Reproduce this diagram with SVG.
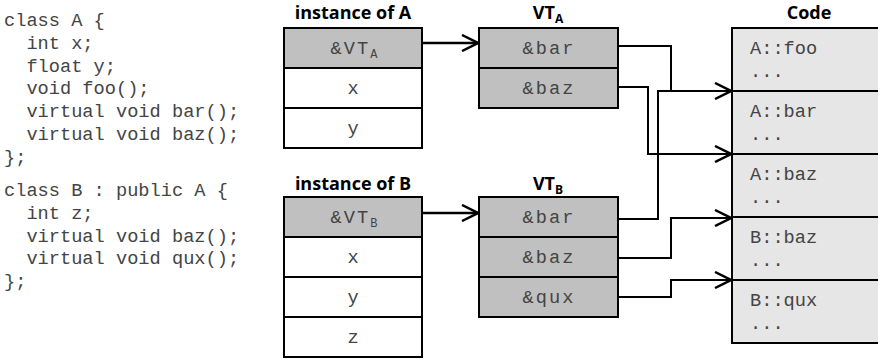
<svg xmlns="http://www.w3.org/2000/svg" width="878" height="359" viewBox="0 0 878 359">
  <style>
    .hdr { font-family: "Open Sans", "Liberation Sans", sans-serif; font-weight: bold; font-size: 18px; fill: #000; text-anchor: middle; }
    .sub { font-size: 12px; }
    .src { font-family: "Liberation Mono", "DejaVu Sans Mono", monospace; font-size: 18.67px; fill: #444; }
    .cell { font-family: "Liberation Mono", "DejaVu Sans Mono", monospace; font-size: 18.67px; fill: #444; text-anchor: middle; letter-spacing: 2px; }
    .csub { font-size: 12px; letter-spacing: 0; }
    .box { stroke: #000; stroke-width: 2; }
    .grey { fill: #c0c0c0; }
    .white { fill: #fff; }
    .codebg { fill: #e6e6e6; }
    .wire { fill: none; stroke: #000; stroke-width: 2; }
    .ptr { fill: none; stroke: #000; stroke-width: 2.5; }
  </style>
  <defs>
    <marker id="chev" viewBox="0 0 18 18" refX="17" refY="9" markerWidth="18" markerHeight="18" markerUnits="userSpaceOnUse" orient="auto">
      <path d="M1,1 L17,9 L1,17" fill="none" stroke="#000" stroke-width="2.5"/>
    </marker>
  </defs>

  <!-- C++ source for the two classes -->
  <g id="source">
    <text class="src" x="4" y="26">class A {</text>
    <text class="src" x="26.4" y="48.8">int x;</text>
    <text class="src" x="26.4" y="71.6">float y;</text>
    <text class="src" x="26.4" y="94.4">void foo();</text>
    <text class="src" x="26.4" y="117.2">virtual void bar();</text>
    <text class="src" x="26.4" y="140">virtual void baz();</text>
    <text class="src" x="4" y="162.8">};</text>
    <text class="src" x="4" y="196">class B : public A {</text>
    <text class="src" x="26.4" y="218.8">int z;</text>
    <text class="src" x="26.4" y="241.6">virtual void baz();</text>
    <text class="src" x="26.4" y="264.4">virtual void qux();</text>
    <text class="src" x="4" y="287.2">};</text>
  </g>

  <!-- object layout of an A -->
  <g id="instA">
    <text class="hdr" x="353" y="19">instance of A</text>
    <rect class="box grey" x="284" y="28" width="138" height="40"/>
    <rect class="box white" x="284" y="68" width="138" height="40"/>
    <rect class="box white" x="284" y="108" width="138" height="40"/>
    <text class="cell" x="354" y="54">&amp;VT<tspan class="csub" dy="4">A</tspan></text>
    <text class="cell" x="354" y="94">x</text>
    <text class="cell" x="354" y="134">y</text>
  </g>

  <!-- vtable of A -->
  <g id="vtA">
    <text class="hdr" x="548" y="19">VT<tspan class="sub" dy="4">A</tspan></text>
    <rect class="box grey" x="479" y="28" width="139" height="40"/>
    <rect class="box grey" x="479" y="68" width="139" height="40"/>
    <text class="cell" x="549" y="54">&amp;bar</text>
    <text class="cell" x="549" y="94">&amp;baz</text>
  </g>

  <!-- object layout of a B -->
  <g id="instB">
    <text class="hdr" x="353" y="190">instance of B</text>
    <rect class="box grey" x="284" y="197" width="138" height="40"/>
    <rect class="box white" x="284" y="237" width="138" height="40"/>
    <rect class="box white" x="284" y="277" width="138" height="40"/>
    <rect class="box white" x="284" y="317" width="138" height="40"/>
    <text class="cell" x="354" y="223">&amp;VT<tspan class="csub" dy="4">B</tspan></text>
    <text class="cell" x="354" y="263">x</text>
    <text class="cell" x="354" y="303">y</text>
    <text class="cell" x="354" y="343">z</text>
  </g>

  <!-- vtable of B -->
  <g id="vtB">
    <text class="hdr" x="548" y="190">VT<tspan class="sub" dy="4">B</tspan></text>
    <rect class="box grey" x="479" y="197" width="139" height="40"/>
    <rect class="box grey" x="479" y="237" width="139" height="40"/>
    <rect class="box grey" x="479" y="277" width="139" height="40"/>
    <text class="cell" x="549" y="223">&amp;bar</text>
    <text class="cell" x="549" y="263">&amp;baz</text>
    <text class="cell" x="549" y="303">&amp;qux</text>
  </g>

  <!-- code segment -->
  <g id="code">
    <text class="hdr" x="809" y="19">Code</text>
    <rect class="box codebg" x="732" y="28" width="160" height="315"/>
    <line class="box" x1="732" y1="91" x2="892" y2="91"/>
    <line class="box" x1="732" y1="154" x2="892" y2="154"/>
    <line class="box" x1="732" y1="217" x2="892" y2="217"/>
    <line class="box" x1="732" y1="280" x2="892" y2="280"/>
    <text class="src" x="750" y="54">A::foo</text>
    <text class="src" x="750" y="77">...</text>
    <text class="src" x="750" y="117">A::bar</text>
    <text class="src" x="750" y="140">...</text>
    <text class="src" x="750" y="180">A::baz</text>
    <text class="src" x="750" y="203">...</text>
    <text class="src" x="750" y="243">B::baz</text>
    <text class="src" x="750" y="266">...</text>
    <text class="src" x="750" y="306">B::qux</text>
    <text class="src" x="750" y="329">...</text>
  </g>

  <!-- pointers -->
  <g id="connectors">
    <path class="ptr" d="M422,43 H478" marker-end="url(#chev)"/>
    <path class="ptr" d="M422,213 H478" marker-end="url(#chev)"/>
    <path class="wire" d="M618,46 H671 V91 H731" marker-end="url(#chev)"/>
    <path class="wire" d="M618,87 H648 V154 H731" marker-end="url(#chev)"/>
    <path class="wire" d="M618,219 H658 V91 H731"/>
    <path class="wire" d="M618,258 H671 V218 H731" marker-end="url(#chev)"/>
    <path class="wire" d="M618,297 H671 V280 H731" marker-end="url(#chev)"/>
  </g>
</svg>
